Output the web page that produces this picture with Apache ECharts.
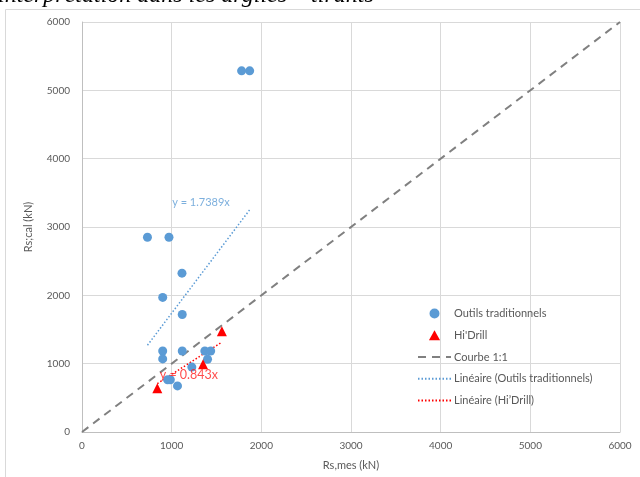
<!DOCTYPE html>
<html>
<head>
<meta charset="utf-8">
<script src="https://cdn.jsdelivr.net/npm/echarts@6/dist/echarts.min.js"></script>
<style>
html,body{margin:0;padding:0;background:#fff;}
#c{width:640px;height:477px;}
</style>
</head>
<body>
<div id="c"></div>
<script>
// Data
var tradX = [730, 970, 1780, 1870, 1115, 900, 1118, 900, 900, 1118, 1370, 1435, 1400, 1225, 955, 985, 1065];
var tradY = [2850, 2850, 5285, 5285, 2325, 1970, 1720, 1185, 1070, 1185, 1185, 1185, 1065, 950, 765, 765, 675];
var hiX = [840, 1350, 1560];
var hiY = [640, 990, 1475];
var slopeTrad = 1.7389;
var slopeHi = 0.843;
var eqLabels = ['y = 1.7389x', 'y = 0.843x'];
var eqPos = [[1327, 3360], [1192, 830]];
var axisTicks = [0, 1000, 2000, 3000, 4000, 5000, 6000];
var seriesNames = ['Outils traditionnels', "Hi'Drill", 'Courbe 1:1', 'Linéaire (Outils traditionnels)', 'Linéaire (Hi\u2019Drill)'];

function pairs(xs, ys){ return xs.map(function(x,i){return [x, ys[i]];}); }
function trend(xs, k){
  var mn = Math.min.apply(null, xs), mx = Math.max.apply(null, xs);
  return [[mn, k*mn], [mx, k*mx]];
}

var chart = echarts.init(document.getElementById('c'), null, {renderer:'canvas'});
var fontFam = 'Lato, "Open Sans", sans-serif';
var option = {
  animation: false,
  textStyle: {fontFamily: fontFam},
  graphic: [
    {type:'rect', shape:{x:5.5, y:9.5, width:700, height:520}, style:{fill:'none', stroke:'#d9d9d9', lineWidth:1}, silent:true, z:-10},
    {type:'text', left: -2, top: -16, style:{text:'interprétation dans les argiles – tirants', font:'italic 24px "Liberation Serif", serif', fill:'#000'}, silent:true}
  ],
  grid: {left: 82, right: 20, top: 22, bottom: 45, containLabel: false},
  xAxis: {
    type: 'value', min: 0, max: 6000, interval: 1000,
    name: 'Rs,mes (kN)', nameLocation: 'middle', nameGap: 28,
    nameTextStyle: {color:'#595959', fontSize: 11, fontFamily: fontFam},
    axisLine: {show: true, lineStyle: {color:'#bfbfbf'}},
    axisTick: {show: false},
    axisLabel: {color:'#595959', fontSize: 10, margin: 9, formatter: function(v){return String(v);}},
    splitLine: {lineStyle: {color:'#d9d9d9'}}
  },
  yAxis: {
    type: 'value', min: 0, max: 6000, interval: 1000,
    name: 'Rs;cal (kN)', nameLocation: 'middle', nameGap: 48,
    nameTextStyle: {color:'#595959', fontSize: 11, fontFamily: fontFam},
    axisLine: {show: true, lineStyle: {color:'#bfbfbf'}},
    axisTick: {show: false},
    axisLabel: {color:'#595959', fontSize: 10, margin: 12, formatter: function(v){return String(v);}},
    splitLine: {lineStyle: {color:'#d9d9d9'}}
  },
  legend: {
    orient: 'vertical', left: 412, top: 302,
    itemWidth: 33, itemHeight: 10, itemGap: 8.75,
    textStyle: {color:'#595959', fontSize: 11, fontFamily: fontFam, lineHeight: 13, padding:[0,0,0,-2]},
    data: [
      {name: seriesNames[0], icon: 'path://M0,0 A5,5 0 1,1 0,0.01 Z', itemStyle:{color:'#5b9bd5'}},
      {name: seriesNames[1], icon: 'path://M5,0 L10,9 L0,9 Z', itemStyle:{color:'#ff0000'}},
      {name: seriesNames[2], itemStyle: {opacity: 0}},
      {name: seriesNames[3], itemStyle: {opacity: 0}},
      {name: seriesNames[4], itemStyle: {opacity: 0}}
    ]
  },
  series: [
    {
      name: seriesNames[2], type: 'line', data: [[0,0],[6000,6000]], symbol: 'none',
      lineStyle: {color:'#808080', width: 2, type: [8, 6]}, itemStyle:{color:'#808080'}, z: 1
    },
    {
      name: seriesNames[3], type: 'line', data: trend(tradX, slopeTrad), symbol: 'none',
      lineStyle: {color:'#5b9bd5', width: 1.5, type: [1.5, 2]}, itemStyle:{color:'#5b9bd5'}, z: 2
    },
    {
      name: seriesNames[4], type: 'line', data: trend(hiX, slopeHi), symbol: 'none',
      lineStyle: {color:'#ff0000', width: 1.5, type: [1.5, 2]}, itemStyle:{color:'#ff0000'}, z: 2
    },
    {
      name: seriesNames[0], type: 'scatter', data: pairs(tradX, tradY), symbol: 'circle', symbolSize: 9,
      itemStyle: {color:'#5b9bd5', opacity: 1}, z: 3
    },
    {
      name: seriesNames[1], type: 'scatter', data: pairs(hiX, hiY), symbol: 'triangle', symbolSize: 10,
      itemStyle: {color:'#ff0000', opacity: 1}, z: 4
    },
    {
      type: 'scatter', silent: true, symbolSize: 1, z: 10, zlevel: 1,
      itemStyle: {color: 'rgba(0,0,0,0)'},
      data: [
        {value: eqPos[0], label: {show:true, formatter: eqLabels[0], color:'#5b9bd5', fontSize: 11, position:'inside', align:'center', verticalAlign:'middle'}},
        {value: eqPos[1], label: {show:true, formatter: eqLabels[1], color:'#ff2020', fontSize: 12.5, position:'inside', align:'center', verticalAlign:'middle'}}
      ]
    }
  ]
};
chart.setOption(option);
</script>
</body>
</html>
